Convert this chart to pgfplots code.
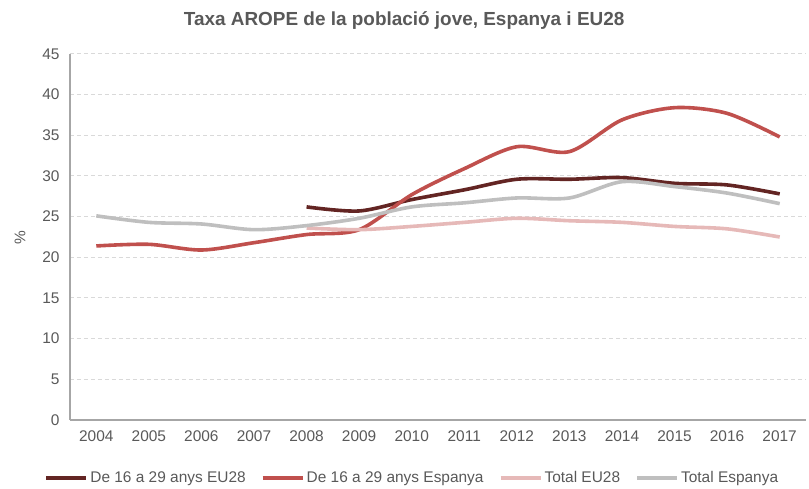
\documentclass[border=0pt]{standalone}
\usepackage{pgfplots}
\pgfplotsset{compat=1.18}
\usepackage{fontspec}
\setmainfont{Liberation Sans}

\definecolor{cDark}{HTML}{632523}
\definecolor{cRed}{HTML}{C0504D}
\definecolor{cPink}{HTML}{E6B9B8}
\definecolor{cGray}{HTML}{BFBFBF}
\definecolor{txtGray}{HTML}{595959}
\definecolor{axGray}{HTML}{A6A6A6}
\definecolor{gridGray}{HTML}{D9D9D9}

\begin{document}
\begin{tikzpicture}
  \useasboundingbox (-70bp,-69bp) rectangle (739bp,420bp);
  \begin{axis}[
      at={(0,0)}, anchor=south west,
      scale only axis, width=736bp, height=366bp,
      xmin=2003.5, xmax=2017.5, ymin=0, ymax=45,
      xtick={2004,...,2017}, ytick={0,5,...,45},
      major tick length=0,
      axis x line*=bottom, axis y line*=left,
      axis line style={axGray, line width=1.2bp},
      ymajorgrids=true,
      grid style={gridGray, dash pattern=on 4bp off 3bp, line width=1bp},
      /pgf/number format/assume math mode=true,
      tick label style={font=\fontsize{15.5}{18}\selectfont, text=txtGray},
      xticklabel style={/pgf/number format/set thousands separator={}, yshift=-7bp},
      yticklabel style={xshift=-7bp},
      ylabel={\%},
      ylabel style={font=\fontsize{15.5}{18}\selectfont, text=txtGray,
                    at={(axis description cs:-0.068,0.497)}, anchor=center},
      title={Taxa AROPE de la població jove, Espanya i EU28},
      title style={font=\bfseries\fontsize{19}{22}\selectfont, text=txtGray,
                   at={(axis description cs:0.454,1.074)}, anchor=center},
      legend columns=4,
      legend style={draw=none, fill=none, font=\fontsize{15.5}{18}\selectfont, text=txtGray,
                    at={(axis description cs:0.465,-0.158)}, anchor=center,
                    /tikz/every even column/.append style={column sep=13bp},
                    inner sep=0pt, nodes={inner xsep=2bp}},
      legend image code/.code={\draw[#1, line width=4bp] (0bp,0bp) -- (40bp,0bp);},
      every axis plot/.append style={line width=3.6bp, smooth, tension=0.5, mark=none},
    ]
    \addplot[cDark] coordinates {(2008,26.2) (2009,25.7) (2010,27.1) (2011,28.3) (2012,29.6) (2013,29.6) (2014,29.8) (2015,29.1) (2016,28.9) (2017,27.8)};
    \addlegendentry{De 16 a 29 anys EU28}
    \addplot[cRed] coordinates {(2004,21.4) (2005,21.6) (2006,20.9) (2007,21.8) (2008,22.8) (2009,23.4) (2010,27.7) (2011,30.9) (2012,33.6) (2013,33.0) (2014,36.9) (2015,38.4) (2016,37.7) (2017,34.8)};
    \addlegendentry{De 16 a 29 anys Espanya}
    \addplot[cPink] coordinates {(2008,23.6) (2009,23.4) (2010,23.8) (2011,24.3) (2012,24.8) (2013,24.5) (2014,24.3) (2015,23.8) (2016,23.5) (2017,22.5)};
    \addlegendentry{Total EU28}
    \addplot[cGray] coordinates {(2004,25.1) (2005,24.3) (2006,24.1) (2007,23.4) (2008,23.9) (2009,24.8) (2010,26.2) (2011,26.7) (2012,27.3) (2013,27.3) (2014,29.3) (2015,28.7) (2016,27.9) (2017,26.6)};
    \addlegendentry{Total Espanya}
  \end{axis}
\end{tikzpicture}
\end{document}
